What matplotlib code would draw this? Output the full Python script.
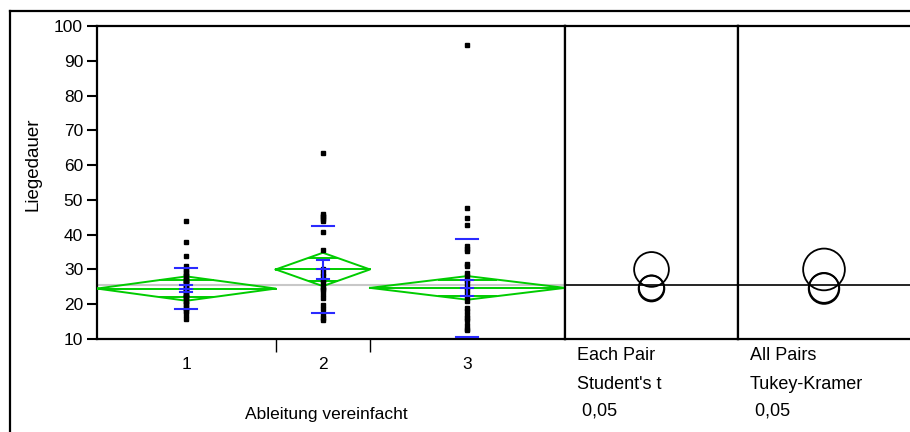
import numpy as np
import matplotlib
matplotlib.use("Agg")
import matplotlib.pyplot as plt
from matplotlib.patches import Ellipse
from matplotlib.lines import Line2D

plt.rcParams['font.family'] = ['Liberation Sans', 'DejaVu Sans']

# Daten
gruppen = ["1", "2", "3"]
n_gruppe = [55, 29, 60]
werte_1 = [44, 38, 34, 31, 30, 30, 29, 29, 28, 28, 27, 27, 27, 26, 26, 26, 25, 25, 25,
           24, 24, 24, 24, 23, 23, 23, 22, 22, 22, 21, 21, 20, 20, 19, 19, 18, 18, 17, 15.7]
werte_2 = [63.5, 46, 45.5, 45, 44.5, 44, 40.7, 35.7, 30, 29, 28, 27, 26, 25, 24.5, 24,
           23, 21.7, 19.8, 18.5, 17, 16, 15.5]
werte_3 = [94.6, 47.7, 44.7, 42.8, 36.6, 36, 35.2, 31.5, 31, 29, 28, 27, 26, 25, 24, 23,
           22, 21, 19, 18, 17, 16, 15.5, 14, 13, 12.5]
mittel = [24.5, 30.0, 24.7]
ci_halb = [3.5, 4.8, 3.4]
std_abw = [5.95, 12.45, 14.1]
std_fehler = [0.95, 2.7, 2.3]
gesamt_mittel = 25.5
radius_student = [3.7, 5.0, 3.6]
radius_tukey = [4.4, 6.0, 4.3]

gruen = '#00cc00'
blau = '#2a2aff'

fig = plt.figure(figsize=(9.1, 4.32), dpi=100)
W, H = 910, 432

def box(x0, x1, y0, y1):
    return [x0 / W, 1 - y1 / H, (x1 - x0) / W, (y1 - y0) / H]

ax = fig.add_axes(box(97, 565, 26, 339))
ax2 = fig.add_axes(box(565, 738, 26, 339), sharey=ax)
ax3 = fig.add_axes(box(738, 910, 26, 339), sharey=ax)

# Gruppengrenzen proportional zur Anzahl
grenzen = np.concatenate([[0], np.cumsum(n_gruppe)])
mitten = (grenzen[:-1] + grenzen[1:]) / 2

ax.set_xlim(0, grenzen[-1])
ax.set_ylim(10, 100)
ax.axhline(gesamt_mittel, color='#c8c8c8', lw=1.5, zorder=1)

alle_werte = [werte_1, werte_2, werte_3]
for i in range(3):
    l, r, c = grenzen[i], grenzen[i + 1], mitten[i]
    m, h = mittel[i], ci_halb[i]
    # Diamant
    ax.plot([l, c, r, c, l], [m, m + h, m, m - h, m], color=gruen, lw=1.4, zorder=3)
    ax.plot([l, r], [m, m], color=gruen, lw=1.4, zorder=3)
    # Overlap-Markierungen
    o = h / np.sqrt(2)
    hw = (r - l) / 2 * (1 - o / h)
    for s in (1, -1):
        ax.plot([c - hw, c + hw], [m + s * o, m + s * o], color=gruen, lw=1.4, zorder=3)
    # Punkte
    ax.plot(np.full(len(alle_werte[i]), c), alle_werte[i], 's', color='black',
            ms=2.8, zorder=4)
    # Standardabweichung
    sw = grenzen[-1] * 11 / 468
    for s in (1, -1):
        ax.plot([c - sw, c + sw], [m + s * std_abw[i]] * 2, color=blau, lw=1.5, zorder=5)
    # Mittelwert-Fehlerbalken
    ew = grenzen[-1] * 6 / 468
    se = std_fehler[i]
    for y in (m - se, m, m + se):
        ax.plot([c - ew, c + ew], [y, y], color=blau, lw=1.5, zorder=5)
    ax.plot([c, c], [m - se, m + se], color=blau, lw=1.5, zorder=5)

ax.set_xticks(grenzen[1:-1])
ax.set_xticklabels([])
ax.set_xticks(mitten, minor=True)
ax.set_xticklabels(gruppen, minor=True, fontsize=12.5)
ax.tick_params(axis='x', which='major', direction='out', length=9, width=1)
ax.tick_params(axis='x', which='minor', length=0, pad=13)
ax.set_yticks(np.arange(10, 101, 10))
ax.tick_params(axis='y', direction='out', length=7, width=1.5, labelsize=12.5, pad=3)

# Vergleichskreise
for a, radien in ((ax2, radius_student), (ax3, radius_tukey)):
    a.set_xlim(0, 1)
    a.axhline(gesamt_mittel, color='black', lw=1.2, zorder=1)
    bb = a.get_position()
    px_x = bb.width * W
    px_y = bb.height * H / 90
    for m, r in zip(mittel, radien):
        e = Ellipse((0.5, m), 2 * r * px_y / px_x, 2 * r, fill=False,
                    edgecolor='black', lw=1.3)
        a.add_patch(e)
    a.tick_params(left=False, labelleft=False, bottom=False, labelbottom=False)

for a in (ax, ax2, ax3):
    for sp in a.spines.values():
        sp.set_linewidth(1.6)
ax3.spines['right'].set_visible(False)

txt = dict(fontsize=13, va='center', ha='left')
ax2.text(0.07, -0.054, "Each Pair", transform=ax2.transAxes, **txt)
ax2.text(0.07, -0.144, "Student's t", transform=ax2.transAxes, **txt)
ax2.text(0.07, -0.229, " 0,05", transform=ax2.transAxes, **txt)
ax3.text(0.07, -0.054, "All Pairs", transform=ax3.transAxes, **txt)
ax3.text(0.07, -0.144, "Tukey-Kramer", transform=ax3.transAxes, **txt)
ax3.text(0.07, -0.229, " 0,05", transform=ax3.transAxes, **txt)

fig.text(33 / W, 1 - 164 / H, "Liegedauer", rotation=90, ha='center', va='center', fontsize=13.5)
fig.text(326 / W, 1 - 415 / H, "Ableitung vereinfacht", ha='center', va='center', fontsize=12.5)

# Rahmen
fig.add_artist(Line2D([10 / W, 1], [1 - 11 / H, 1 - 11 / H], color='black', lw=1.6))
fig.add_artist(Line2D([10 / W, 10 / W], [0, 1 - 11 / H], color='black', lw=1.6))

fig.savefig("out.png", dpi=100)
